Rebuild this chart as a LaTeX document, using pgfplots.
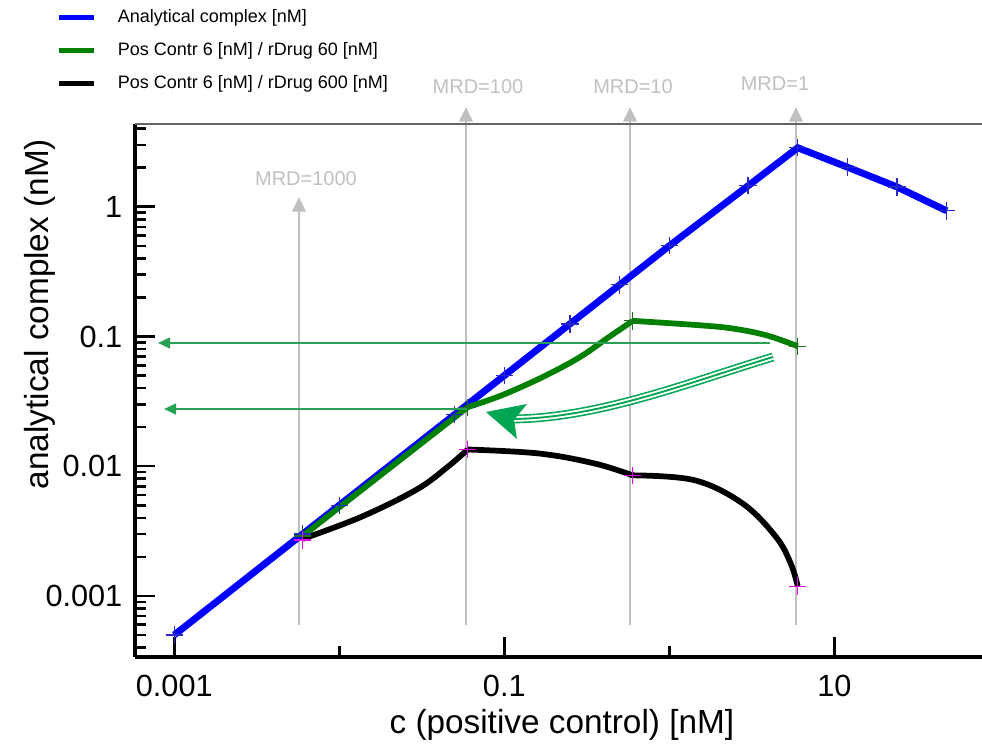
\documentclass[border=0pt]{standalone}
\usepackage{fontspec}
\setmainfont{Liberation Sans}
\usepackage{pgfplots}
\pgfplotsset{compat=1.18}
\usetikzlibrary{arrows.meta}
\definecolor{cblue}{RGB}{0,0,255}
\definecolor{cmark}{RGB}{40,40,200}
\definecolor{cgreen}{RGB}{0,128,0}
\definecolor{gmark}{RGB}{30,110,30}
\definecolor{agreen}{RGB}{0,166,81}
\definecolor{hgreen}{RGB}{40,160,85}
\definecolor{mrdgray}{RGB}{192,192,192}
\definecolor{topgray}{RGB}{100,100,100}
\definecolor{cmag}{RGB}{235,0,235}
\begin{document}
\begin{tikzpicture}
\path[use as bounding box] (0,0) rectangle (736.5pt,-558.75pt);
% MRD marker arrows (behind the data)
\begin{scope}[x=0.75pt,y=-0.75pt]
\foreach \xx/\yy in {299/197,466/107,630/107,796/107}
  \draw[mrdgray, line width=2.2pt, -{Triangle[width=10pt,length=11pt]}] (\xx,625) -- (\xx,\yy);
\tikzset{mrd/.style={text=mrdgray, font=\fontsize{15}{18}\selectfont, inner sep=0pt}}
\node[mrd] at (306,179) {MRD=1000};
\node[mrd] at (478,87) {MRD=100};
\node[mrd] at (633,87) {MRD=10};
\node[mrd] at (775,84) {MRD=1};
\end{scope}
\begin{axis}[
  at={(101.25pt,-492.75pt)}, anchor=south west,
  scale only axis, width=635.25pt, height=399.75pt,
  xmode=log, ymode=log,
  xmin=5.78e-4, xmax=78.5, ymin=3.38e-4, ymax=4.345,
  axis x line*=bottom, axis y line*=left,
  axis line style={line width=2.6pt, -},
  tick align=inside,
  xtick={0.001,0.1,10}, xticklabels={0.001,0.1,10},
  minor xtick={0.01,1},
  ytick={0.001,0.01,0.1,1}, yticklabels={0.001,0.01,0.1,1},
  minor ytick={4e-4,5e-4,6e-4,7e-4,8e-4,9e-4,
               2e-3,3e-3,4e-3,5e-3,6e-3,7e-3,8e-3,9e-3,
               2e-2,3e-2,4e-2,5e-2,6e-2,7e-2,8e-2,9e-2,
               0.2,0.3,0.4,0.5,0.6,0.7,0.8,0.9,2,3,4},
  major tick length=15pt, minor tick length=8.5pt,
  every tick/.style={black, line width=1.9pt},
  tick label style={font=\fontsize{23}{27}\selectfont},
  xticklabel style={yshift=-10pt},
  yticklabel style={xshift=-6pt},
  xlabel={c (positive control) [nM]},
  ylabel={analytical complex (nM)},
  label style={font=\fontsize{25}{29}\selectfont},
  xlabel style={at={(rel axis cs:0.504,-0.128)}, anchor=center},
  ylabel style={at={(rel axis cs:-0.112,0.6435)}, anchor=center},
  clip=false,
  legend cell align=left,
  legend image code/.code={\draw[#1, line width=4pt] (0pt,0pt) -- (26pt,0pt);},
  legend style={at={(rel axis cs:-0.093,1.22)}, anchor=north west, draw=none, fill=none,
    font=\fontsize{13.5}{16}\selectfont, row sep=9.5pt, inner sep=0pt,
    /tikz/every odd column/.append style={column sep=14pt}},
]
\draw[topgray, line width=2pt] (rel axis cs:0,1) -- (rel axis cs:1,1);
% Analytical complex
\addplot[cblue, line width=5.2pt, mark=+, mark size=6.5pt,
  mark options={cmark, line width=0.9pt}] coordinates {
  (0.001,0.0005) (0.006,0.003) (0.01,0.005) (0.05,0.025) (0.1,0.05)
  (0.25,0.125) (0.5,0.25) (1,0.5) (3,1.45) (6,2.85) (12,2.02) (24,1.42) (48,0.93)};
\addlegendentry{Analytical complex  [nM]}
% Pos Contr 6 / rDrug 60
\addplot[cgreen, line width=4.3pt] coordinates {
  (0.006,0.0029) (0.06,0.0285)};
\addlegendentry{Pos Contr 6 [nM] / rDrug 60 [nM]}
% Pos Contr 6 / rDrug 600
\addplot[black, line width=4.3pt, smooth, tension=0.6] coordinates {
  (0.006,0.00275) (0.0136,0.00407) (0.0294,0.0066) (0.045,0.0098) (0.06,0.01345)};
\addlegendentry{Pos Contr 6 [nM] / rDrug 600 [nM]}
\addplot[cgreen, line width=4.3pt, smooth, tension=0.6, forget plot] coordinates {
  (0.06,0.0285) (0.0943,0.0348) (0.15,0.0450) (0.218,0.0570)
  (0.301,0.0720) (0.418,0.0965) (0.6,0.132)};
\addplot[cgreen, line width=4.3pt, smooth, tension=0.6, forget plot] coordinates {
  (0.6,0.132) (1.53,0.122) (2.44,0.115) (3.89,0.102) (6,0.0841)};
\addplot[black, line width=4.3pt, smooth, tension=0.6, forget plot] coordinates {
  (0.06,0.01345) (0.162,0.01253) (0.352,0.0105) (0.6,0.0085)};
\addplot[black, line width=4.3pt, smooth, tension=0.6, forget plot] coordinates {
  (0.6,0.0085) (1.42,0.0078) (2.78,0.00516) (4.43,0.00285) (5.44,0.00178) (6,0.00119)};
\addplot[only marks, mark=+, mark size=6.5pt, mark options={gmark, line width=0.9pt}, forget plot]
  coordinates {(0.006,0.0029) (0.06,0.0285) (0.6,0.132) (6,0.0841)};
\addplot[only marks, mark=+, mark size=6.5pt, mark options={cmag, line width=0.9pt}, forget plot]
  coordinates {(0.006,0.0027) (0.06,0.01345) (0.6,0.0085) (6,0.00119)};
\end{axis}
% green annotation arrows
\begin{scope}[x=0.75pt,y=-0.75pt]
\draw[hgreen, line width=1.8pt, -{Triangle[width=8pt,length=9pt]}] (770,343) -- (158,343);
\draw[hgreen, line width=1.8pt, -{Triangle[width=8pt,length=9pt]}] (467,409) -- (164,409);
\draw[agreen, line width=6.6pt] (773,357) .. controls (690,382) and (600,418) .. (513,419);
\draw[white, line width=4.2pt] (773,357) .. controls (690,382) and (600,418) .. (513,419);
\draw[agreen, line width=1.4pt] (773,357) .. controls (690,382) and (600,418) .. (513,419);
\fill[agreen] (486,412) -- (527,404) -- (514,420) -- (517,439) -- cycle;
\end{scope}
\end{tikzpicture}
\end{document}
